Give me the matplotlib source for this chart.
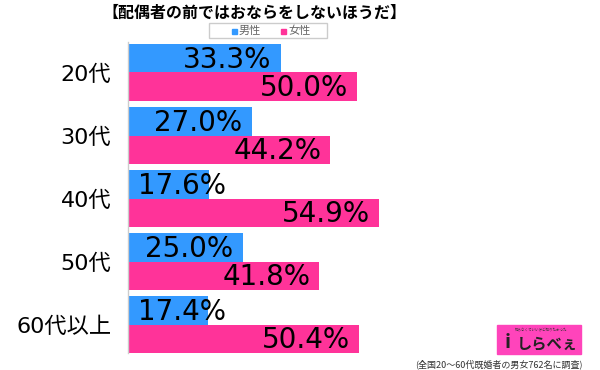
import matplotlib
matplotlib.use("Agg")
import matplotlib.pyplot as plt
from matplotlib.patches import Rectangle

plt.rcParams['font.family'] = ['Noto Sans CJK JP', 'DejaVu Sans']

categories = ['20代', '30代', '40代', '50代', '60代以上']
male = [33.3, 27.0, 17.6, 25.0, 17.4]
female = [50.0, 44.2, 54.9, 41.8, 50.4]
series_names = ['男性', '女性']

blue = '#3399ff'
pink = '#ff3399'

fig = plt.figure(figsize=(6, 3.7), dpi=100)
ax = fig.add_axes([128 / 600, 1 - 353 / 370, 458 / 600, 311 / 370])

h = 0.45
ys = list(range(len(categories)))
ax.barh([y - h / 2 for y in ys], male, height=h, color=blue)
ax.barh([y + h / 2 for y in ys], female, height=h, color=pink)

ax.set_xlim(0, 100)
ax.set_ylim(4.452, -0.484)


def put_label(val, y):
    txt = ax.text(val - 2.0, y + 0.02, f'{val:.1f}%', ha='right', va='center',
                  fontsize=20, color='black', family='DejaVu Sans')
    fig.canvas.draw()
    bb = txt.get_window_extent().transformed(ax.transData.inverted())
    if bb.x0 < 2.2:
        txt.set_x(2.2)
        txt.set_ha('left')


for y, m, f in zip(ys, male, female):
    put_label(m, y - h / 2)
    put_label(f, y + h / 2)

ax.set_yticks(ys)
ax.set_yticklabels(categories, fontsize=16, family=['DejaVu Sans', 'Noto Sans CJK JP'])
ax.tick_params(axis='y', length=0, pad=12)
ax.set_xticks([])
for s in ['top', 'right', 'bottom']:
    ax.spines[s].set_visible(False)
ax.spines['left'].set_color('#cccccc')
ax.spines['left'].set_linewidth(1)

# title
fig.text(254 / 600, 1 - 13 / 370, '【配偶者の前ではおならをしないほうだ】',
         ha='center', va='center', fontsize=11.5, fontweight='bold')

# legend box
fig.patches.append(Rectangle((209 / 600, 1 - 38 / 370), 118 / 600, 15 / 370,
                             transform=fig.transFigure, fill=False,
                             edgecolor='#cccccc', linewidth=1))
for x0, name, col in [(232, series_names[0], blue), (281, series_names[1], pink)]:
    fig.patches.append(Rectangle((x0 / 600, 1 - 33.5 / 370), 5 / 600, 5 / 370,
                                 transform=fig.transFigure, color=col))
    fig.text((x0 + 7) / 600, 1 - 31 / 370, name, ha='left', va='center',
             fontsize=8, color='#666666')

# logo
fig.patches.append(Rectangle((497 / 600, 1 - 354 / 370), 84 / 600, 29 / 370,
                             transform=fig.transFigure, color='#ff44bb'))
fig.text(541 / 600, 1 - 330 / 370, '知らなくていいけど知りたかった', ha='center',
         va='center', fontsize=2.5, color='#333333')
fig.text(547 / 600, 1 - 343 / 370, 'しらべぇ', ha='center', va='center',
         fontsize=11, fontweight='bold', color='#222222')
fig.text(508 / 600, 1 - 342 / 370, 'i', ha='center', va='center',
         fontsize=14, fontweight='bold', color='#222222')

# footnote
fig.text(583 / 600, 1 - 364 / 370, '(全国20～60代既婚者の男女762名に調査)',
         ha='right', va='center', fontsize=6.5, color='#333333')

fig.savefig('out.png', dpi=100)
